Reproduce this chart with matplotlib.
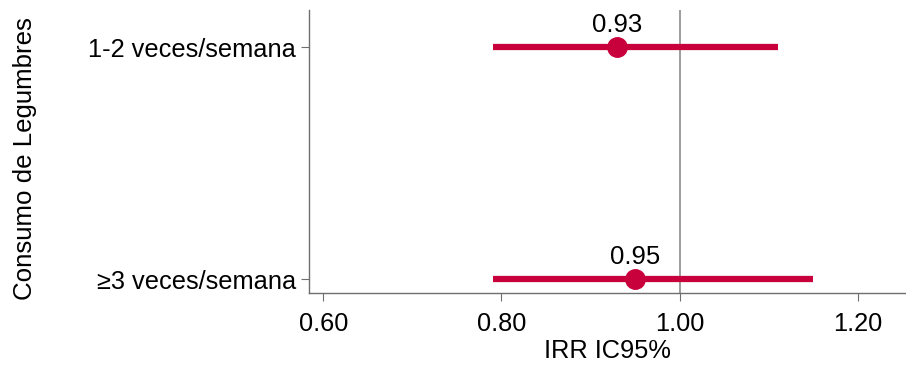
import matplotlib.pyplot as plt

categories = ['≥3 veces/semana', '1-2 veces/semana']
irr = [0.95, 0.93]
ci_low = [0.79, 0.79]
ci_high = [1.15, 1.11]
xticks = [0.60, 0.80, 1.00, 1.20]

plt.rcParams['font.family'] = ['Liberation Sans', 'DejaVu Sans']

fig = plt.figure(figsize=(9.06, 3.68), dpi=100)
ax = fig.add_axes([0.341, 0.204, 0.659, 0.769])

red = '#C8003C'
pos = list(range(len(categories)))

ax.axvline(1.0, color='#8c8c8c', lw=1.2, zorder=1)
ax.hlines(pos, ci_low, ci_high, color=red, lw=4.5, zorder=2)
ax.plot(irr, pos, 'o', color=red, ms=14, zorder=3)
for y, v in zip(pos, irr):
    ax.annotate(f'{v:.2f}', (v, y), xytext=(0, 7), textcoords='offset points',
                ha='center', va='bottom', fontsize=18.5)

ax.set_xlim(0.584, 1.254)
ax.set_ylim(-0.06, 1.16)
ax.set_yticks(pos)
ax.set_yticklabels(categories)
ax.set_xticks(xticks)
ax.set_xticklabels([f'{t:.2f}' for t in xticks])
ax.tick_params(labelsize=18.3, color='#6e6e6e', length=6)
ax.tick_params(axis='x', pad=8)
ax.set_xlabel('IRR IC95%', fontsize=18.3, labelpad=2)
ax.set_ylabel('Consumo de Legumbres', fontsize=18.6)
ax.yaxis.set_label_coords(-0.455, 0.475)

for s in ['top', 'right']:
    ax.spines[s].set_visible(False)
for s in ['left', 'bottom']:
    ax.spines[s].set_color('#6e6e6e')
    ax.spines[s].set_linewidth(1.0)

fig.savefig('out.png', dpi=100)
